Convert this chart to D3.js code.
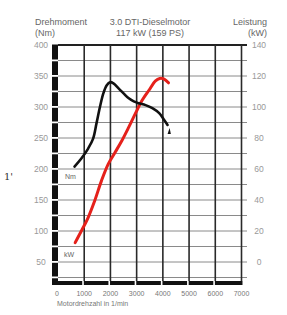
<!DOCTYPE html>
<html>
<head>
<meta charset="utf-8">
<script src="https://cdn.jsdelivr.net/npm/d3@7"></script>
<style>
html,body{margin:0;padding:0;background:#fff;}
svg{display:block;font-family:"Liberation Sans",Arial,sans-serif;}
</style>
</head>
<body>
<svg id="c" width="287" height="315"></svg>
<script>
// ---- data ----
const torqueRpm = [630, 890, 1150, 1340, 1470, 1600, 1730, 1860, 1985, 2115, 2310, 2500, 2700, 2890, 3080, 3340, 3600, 3860, 4050, 4180];
const torqueNm  = [204, 217, 233, 249, 274, 300, 322, 335, 340, 338, 330, 322, 314, 309, 306, 303, 298, 290, 279, 271];
const powerRpm  = [655, 890, 1150, 1400, 1660, 1920, 2180, 2440, 2700, 2950, 3210, 3470, 3720, 3880, 4050, 4215];
const powerKW   = [12.5, 20, 28.7, 39.5, 52.5, 63.3, 70.8, 78.4, 87, 95.7, 104.3, 110.8, 116.9, 118.4, 118, 115.6];
const rpmTicks  = [0, 1000, 2000, 3000, 4000, 5000, 6000, 7000];
const nmTicks   = [50, 100, 150, 200, 250, 300, 350, 400];
const kwTicks   = [0, 20, 40, 60, 80, 100, 120, 140];
const nmGrid    = d3.range(25, 401, 25);

const svg = d3.select("#c");
const x = d3.scaleLinear().domain([0, 7000]).range([58, 241.5]);
const yNm = d3.scaleLinear().domain([50, 400]).range([262, 45]);
const yKW = d3.scaleLinear().domain([0, 140]).range([262, 45]);

// horizontal grid
svg.append("g").selectAll("line").data(nmGrid).join("line")
  .attr("x1", 58).attr("x2", 247)
  .attr("y1", d => yNm(d)).attr("y2", d => yNm(d))
  .attr("stroke", d => d === 400 ? "#222" : "#8a8a8a")
  .attr("stroke-width", d => d === 400 ? 2 : 1);

// vertical grid
svg.append("g").selectAll("line").data(rpmTicks.filter(d => d > 0)).join("line")
  .attr("x1", d => x(d)).attr("x2", d => x(d))
  .attr("y1", 45).attr("y2", d => d === 7000 ? 285 : 281)
  .attr("stroke", "#2a2a2a").attr("stroke-width", 1.6);

// left bar with notches
svg.append("rect").attr("x", 52).attr("y", 44.5).attr("width", 6).attr("height", 240.5).attr("fill", "#111");
svg.append("g").selectAll("rect").data(nmGrid.filter(d => d < 400)).join("rect")
  .attr("x", 52).attr("width", 6)
  .attr("y", d => yNm(d) - 1).attr("height", 1.8)
  .attr("fill", "#fff");
// bottom bar with notches
svg.append("rect").attr("x", 52).attr("y", 281).attr("width", x(7000) - 52 + 0.8).attr("height", 4).attr("fill", "#111");
svg.append("g").selectAll("rect").data(rpmTicks.filter(d => d > 0 && d < 7000)).join("rect")
  .attr("x", d => x(d) - 2).attr("width", 1.6)
  .attr("y", 281).attr("height", 4).attr("fill", "#fff");

// tick labels
svg.append("g").selectAll("text").data(nmTicks).join("text")
  .attr("x", 41).attr("y", d => yNm(d) + 3)
  .attr("text-anchor", "middle").attr("font-size", 8.5).attr("fill", "#999")
  .text(d => d);
svg.append("g").selectAll("text").data(kwTicks).join("text")
  .attr("x", 259).attr("y", d => yKW(d) + 3)
  .attr("text-anchor", "middle").attr("font-size", 8.5).attr("fill", "#999")
  .text(d => d);
svg.append("g").selectAll("text").data(rpmTicks).join("text")
  .attr("x", d => d === 0 ? x(d) - 1 : x(d)).attr("y", 296)
  .attr("text-anchor", "middle").attr("font-size", 7).attr("fill", "#777")
  .text(d => d);
svg.append("text").attr("x", 57).attr("y", 306).attr("font-size", 7).attr("fill", "#777")
  .text("Motordrehzahl in 1/min");

// header
const hdr = [
  {t: "Drehmoment", x: 35, y: 25, a: "start"},
  {t: "(Nm)", x: 35, y: 35.5, a: "start"},
  {t: "3.0 DTI-Dieselmotor", x: 150, y: 25, a: "middle"},
  {t: "117 kW (159 PS)", x: 150, y: 35.5, a: "middle"},
  {t: "Leistung", x: 267, y: 25, a: "end"},
  {t: "(kW)", x: 267, y: 35.5, a: "end"}
];
svg.append("g").selectAll("text").data(hdr).join("text")
  .attr("x", d => d.x).attr("y", d => d.y).attr("text-anchor", d => d.a)
  .attr("font-size", 9).attr("fill", "#666").text(d => d.t);

// stray scan mark
svg.append("text").attr("x", 4).attr("y", 180).attr("font-size", 10)
  .attr("font-family", "DejaVu Serif, serif").attr("fill", "#333").text("1'");

// curves
const line = d3.line().curve(d3.curveCatmullRom.alpha(0.5));
svg.append("path")
  .attr("d", line(powerRpm.map((r, i) => [x(r), yKW(powerKW[i])])))
  .attr("fill", "none").attr("stroke", "#e5211b").attr("stroke-width", 3).attr("stroke-linecap", "round");
svg.append("path")
  .attr("d", line(torqueRpm.map((r, i) => [x(r), yNm(torqueNm[i])])))
  .attr("fill", "none").attr("stroke", "#111").attr("stroke-width", 2.6).attr("stroke-linecap", "round");
// torque end marker
const lastR = torqueRpm[torqueRpm.length - 1];
const ex = x(lastR) + 1.5, ey = yNm(torqueNm[torqueNm.length - 1]) + 3;
svg.append("path")
  .attr("d", `M${ex - 1.5},${ey + 6} L${ex + 1.8},${ey + 6} L${ex + 0.5},${ey} Z`)
  .attr("fill", "#111");

// curve labels
svg.append("text").attr("x", 65).attr("y", 179).attr("font-size", 7).attr("fill", "#666").text("Nm");
svg.append("text").attr("x", 64).attr("y", 257).attr("font-size", 7).attr("fill", "#666").text("kW");
</script>
</body>
</html>
